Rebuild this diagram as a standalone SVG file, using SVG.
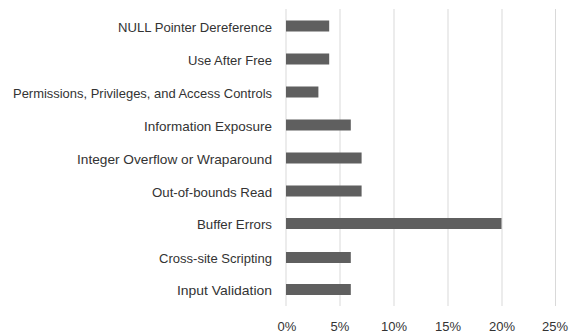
<svg xmlns="http://www.w3.org/2000/svg" width="580" height="335" viewBox="0 0 580 335">
<style>
.grid{stroke:#d9d9d9;stroke-width:1}
.bar{fill:#5f5f5f}
.lbl{font-family:"Liberation Sans",Arial,sans-serif;font-size:13px;fill:#333333;text-anchor:end}
.tick{font-family:"Liberation Sans",Arial,sans-serif;font-size:13px;fill:#333333;text-anchor:middle}
</style>
<rect width="580" height="335" fill="#ffffff"/>
<g id="gridlines">
<line class="grid" x1="340" y1="9" x2="340" y2="306"/>
<line class="grid" x1="394" y1="9" x2="394" y2="306"/>
<line class="grid" x1="448" y1="9" x2="448" y2="306"/>
<line class="grid" x1="502" y1="9" x2="502" y2="306"/>
<line class="grid" x1="555.5" y1="9" x2="555.5" y2="306"/>
<line class="grid" x1="286" y1="9" x2="286" y2="306"/>
</g>
<g id="bars">
<rect class="bar" x="286" y="20.5" width="43.2" height="11"/>
<rect class="bar" x="286" y="53.5" width="43.2" height="11"/>
<rect class="bar" x="286" y="86.5" width="32.4" height="11"/>
<rect class="bar" x="286" y="119.5" width="64.8" height="11"/>
<rect class="bar" x="286" y="152.5" width="75.6" height="11"/>
<rect class="bar" x="286" y="185.5" width="75.6" height="11"/>
<rect class="bar" x="286" y="218" width="215.5" height="11"/>
<rect class="bar" x="286" y="252" width="64.8" height="11"/>
<rect class="bar" x="286" y="284" width="64.8" height="11"/>
</g>
<g id="labels">
<text class="lbl" x="272" y="31.5" textLength="154" lengthAdjust="spacingAndGlyphs">NULL Pointer Dereference</text>
<text class="lbl" x="272" y="64.5" textLength="84" lengthAdjust="spacingAndGlyphs">Use After Free</text>
<text class="lbl" x="272" y="97.5" textLength="259" lengthAdjust="spacingAndGlyphs">Permissions, Privileges, and Access Controls</text>
<text class="lbl" x="272" y="130.5" textLength="128" lengthAdjust="spacingAndGlyphs">Information Exposure</text>
<text class="lbl" x="272" y="163.5" textLength="195" lengthAdjust="spacingAndGlyphs">Integer Overflow or Wraparound</text>
<text class="lbl" x="272" y="196.5" textLength="120" lengthAdjust="spacingAndGlyphs">Out-of-bounds Read</text>
<text class="lbl" x="272" y="229" textLength="75" lengthAdjust="spacingAndGlyphs">Buffer Errors</text>
<text class="lbl" x="272" y="262.5" textLength="113" lengthAdjust="spacingAndGlyphs">Cross-site Scripting</text>
<text class="lbl" x="272" y="295" textLength="95" lengthAdjust="spacingAndGlyphs">Input Validation</text>
</g>
<g id="ticks">
<text class="tick" x="287" y="331">0%</text>
<text class="tick" x="340" y="331">5%</text>
<text class="tick" x="394" y="331">10%</text>
<text class="tick" x="448" y="331">15%</text>
<text class="tick" x="502" y="331">20%</text>
<text class="tick" x="555" y="331">25%</text>
</g>
</svg>
